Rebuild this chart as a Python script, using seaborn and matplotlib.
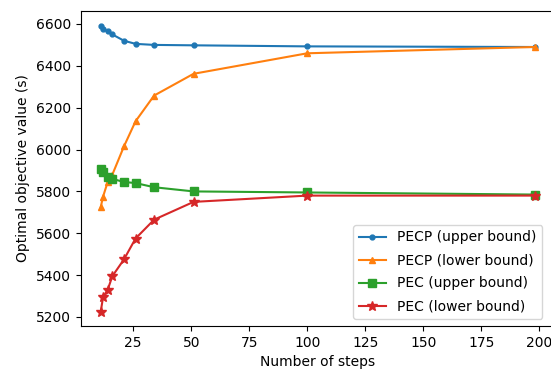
import matplotlib
matplotlib.use("Agg")
import matplotlib.pyplot as plt
import seaborn as sns
import pandas as pd

steps = [11, 12, 14, 16, 21, 26, 34, 51, 100, 198]
pecp_upper = [6590, 6575, 6565, 6550, 6520, 6505, 6500, 6498, 6493, 6490]
pecp_lower = [5725, 5775, 5845, 5880, 6015, 6135, 6258, 6362, 6460, 6490]
pec_upper = [5905, 5895, 5870, 5860, 5845, 5840, 5820, 5800, 5795, 5785]
pec_lower = [5225, 5295, 5330, 5395, 5475, 5575, 5665, 5750, 5780, 5780]

labels = ["PECP (upper bound)", "PECP (lower bound)", "PEC (upper bound)", "PEC (lower bound)"]
series = [pecp_upper, pecp_lower, pec_upper, pec_lower]
markers = [".", "^", "s", "*"]
msizes = [7, 5, 6, 7]
colors = ["#1f77b4", "#ff7f0e", "#2ca02c", "#d62728"]

fig = plt.figure(figsize=(5.51, 3.72), dpi=100)
ax = fig.add_axes([81/551, 46/372, 473/551, 315/372])

for lab, vals, m, ms, c in zip(labels, series, markers, msizes, colors):
    df = pd.DataFrame({"steps": steps, "value": vals})
    sns.lineplot(data=df, x="steps", y="value", ax=ax, marker=m, markersize=ms,
                 color=c, markeredgecolor=c, markeredgewidth=1, linewidth=1.5,
                 label=lab)

ax.set_xlim(2.5, 206.3)
ax.set_ylim(5157, 6662)
ax.set_xlabel("Number of steps")
ax.set_ylabel("Optimal objective value (s)")
ax.legend(loc="lower right", labelspacing=0.65, bbox_to_anchor=(0.99, 0.0))
fig.savefig("out.png", dpi=100)
